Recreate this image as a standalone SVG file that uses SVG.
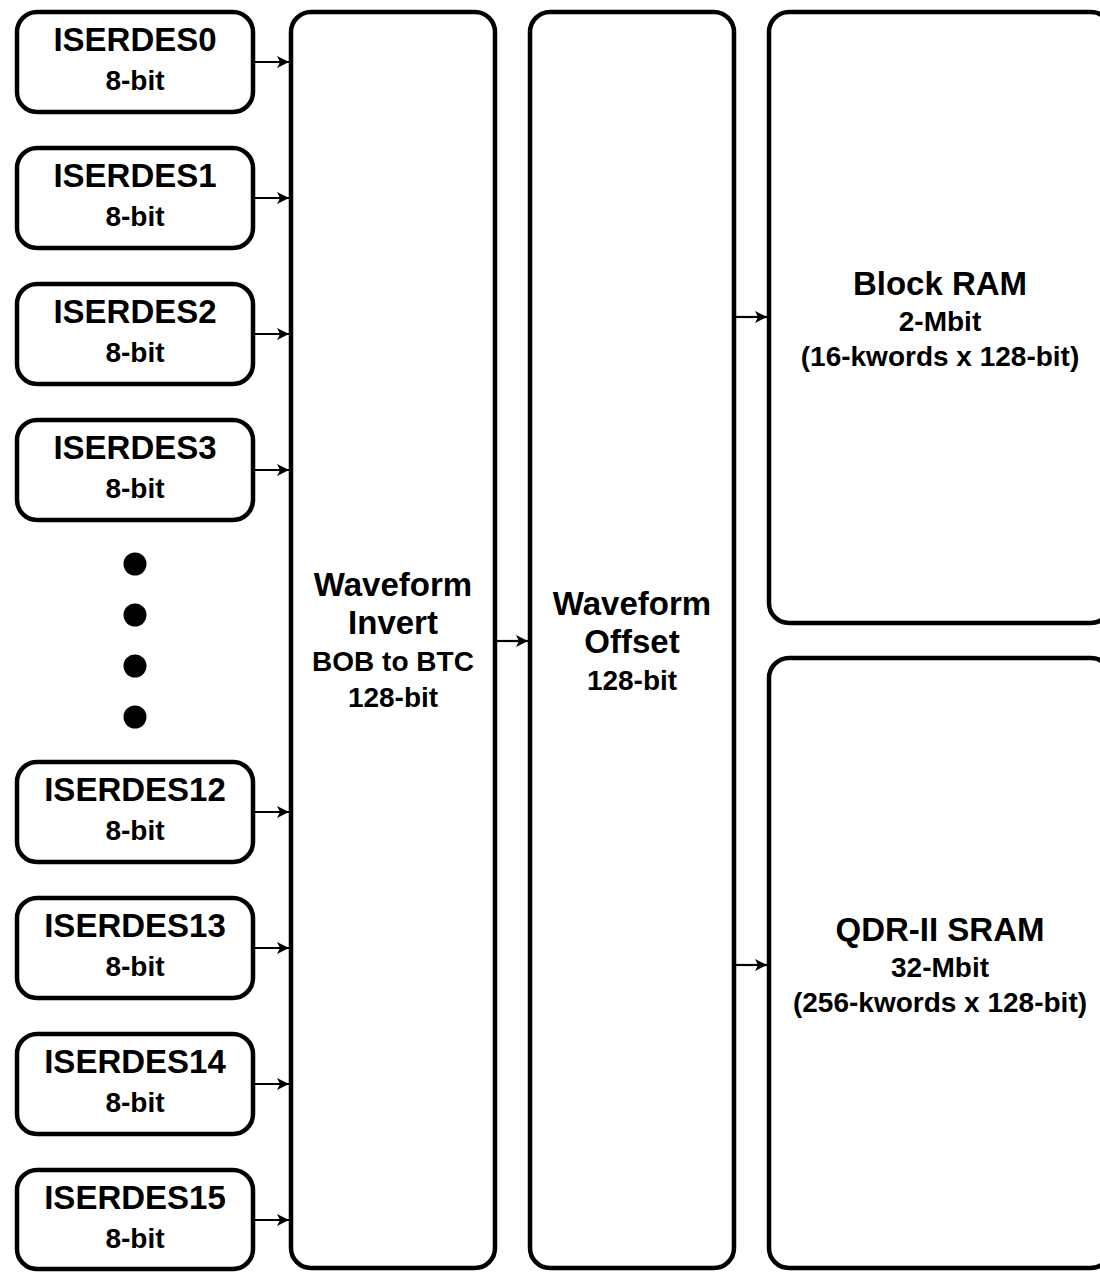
<svg xmlns="http://www.w3.org/2000/svg" width="1100" height="1273" viewBox="0 0 1100 1273">
<defs>
<style>
.box{fill:#fff;stroke:#000;stroke-width:4.5}
.t{font-family:"Liberation Sans",Arial,Helvetica,sans-serif;font-weight:bold;fill:#000;text-anchor:middle}
.h{font-size:33px}
.s{font-size:28px}
.c{stroke:#000;stroke-width:2.2;fill:none;marker-end:url(#ah)}
</style>
<marker id="ah" viewBox="0 0 10 10" refX="10" refY="5" markerWidth="12" markerHeight="12" markerUnits="userSpaceOnUse" orient="auto">
<path d="M0,0 L10,5 L0,10 L2.5,5 Z" fill="#000"/>
</marker>
</defs>
<rect width="1100" height="1273" fill="#fff"/>
<g id="iserdes0"><rect class="box" x="17" y="12" width="236" height="100" rx="20"/><text class="t h" x="135" y="51">ISERDES0</text><text class="t s" x="135" y="90">8-bit</text></g>
<g id="iserdes1"><rect class="box" x="17" y="148" width="236" height="100" rx="20"/><text class="t h" x="135" y="187">ISERDES1</text><text class="t s" x="135" y="226">8-bit</text></g>
<g id="iserdes2"><rect class="box" x="17" y="284" width="236" height="100" rx="20"/><text class="t h" x="135" y="323">ISERDES2</text><text class="t s" x="135" y="362">8-bit</text></g>
<g id="iserdes3"><rect class="box" x="17" y="420" width="236" height="100" rx="20"/><text class="t h" x="135" y="459">ISERDES3</text><text class="t s" x="135" y="498">8-bit</text></g>
<g id="dots"><circle cx="135" cy="564" r="11.5"/><circle cx="135" cy="615" r="11.5"/><circle cx="135" cy="666" r="11.5"/><circle cx="135" cy="717" r="11.5"/></g>
<g id="iserdes12"><rect class="box" x="17" y="762" width="236" height="100" rx="20"/><text class="t h" x="135" y="801">ISERDES12</text><text class="t s" x="135" y="840">8-bit</text></g>
<g id="iserdes13"><rect class="box" x="17" y="898" width="236" height="100" rx="20"/><text class="t h" x="135" y="937">ISERDES13</text><text class="t s" x="135" y="976">8-bit</text></g>
<g id="iserdes14"><rect class="box" x="17" y="1034" width="236" height="100" rx="20"/><text class="t h" x="135" y="1073">ISERDES14</text><text class="t s" x="135" y="1112">8-bit</text></g>
<g id="iserdes15"><rect class="box" x="17" y="1170" width="236" height="99" rx="20"/><text class="t h" x="135" y="1209">ISERDES15</text><text class="t s" x="135" y="1248">8-bit</text></g>
<g id="invert"><rect class="box" x="291" y="12" width="204" height="1256" rx="20"/><text class="t h" x="393" y="596">Waveform</text><text class="t h" x="393" y="634">Invert</text><text class="t s" x="393" y="671">BOB to BTC</text><text class="t s" x="393" y="707">128-bit</text></g>
<g id="offset"><rect class="box" x="530" y="12" width="204" height="1256" rx="20"/><text class="t h" x="632" y="615">Waveform</text><text class="t h" x="632" y="653">Offset</text><text class="t s" x="632" y="690">128-bit</text></g>
<g id="bram"><rect class="box" x="769" y="12" width="342" height="611" rx="20"/><text class="t h" x="940" y="295">Block RAM</text><text class="t s" x="940" y="331">2-Mbit</text><text class="t s" x="940" y="366">(16-kwords x 128-bit)</text></g>
<g id="qdr"><rect class="box" x="769" y="658" width="342" height="610" rx="20"/><text class="t h" x="940" y="941">QDR-II SRAM</text><text class="t s" x="940" y="977">32-Mbit</text><text class="t s" x="940" y="1012">(256-kwords x 128-bit)</text></g>
<g id="connectors">
<line class="c" x1="255" y1="62" x2="289" y2="62"/>
<line class="c" x1="255" y1="198" x2="289" y2="198"/>
<line class="c" x1="255" y1="334" x2="289" y2="334"/>
<line class="c" x1="255" y1="470" x2="289" y2="470"/>
<line class="c" x1="255" y1="812" x2="289" y2="812"/>
<line class="c" x1="255" y1="948" x2="289" y2="948"/>
<line class="c" x1="255" y1="1084" x2="289" y2="1084"/>
<line class="c" x1="255" y1="1220" x2="289" y2="1220"/>
<line class="c" x1="497" y1="641" x2="528" y2="641"/>
<line class="c" x1="736" y1="317" x2="767" y2="317"/>
<line class="c" x1="736" y1="965" x2="767" y2="965"/>
</g>
</svg>
